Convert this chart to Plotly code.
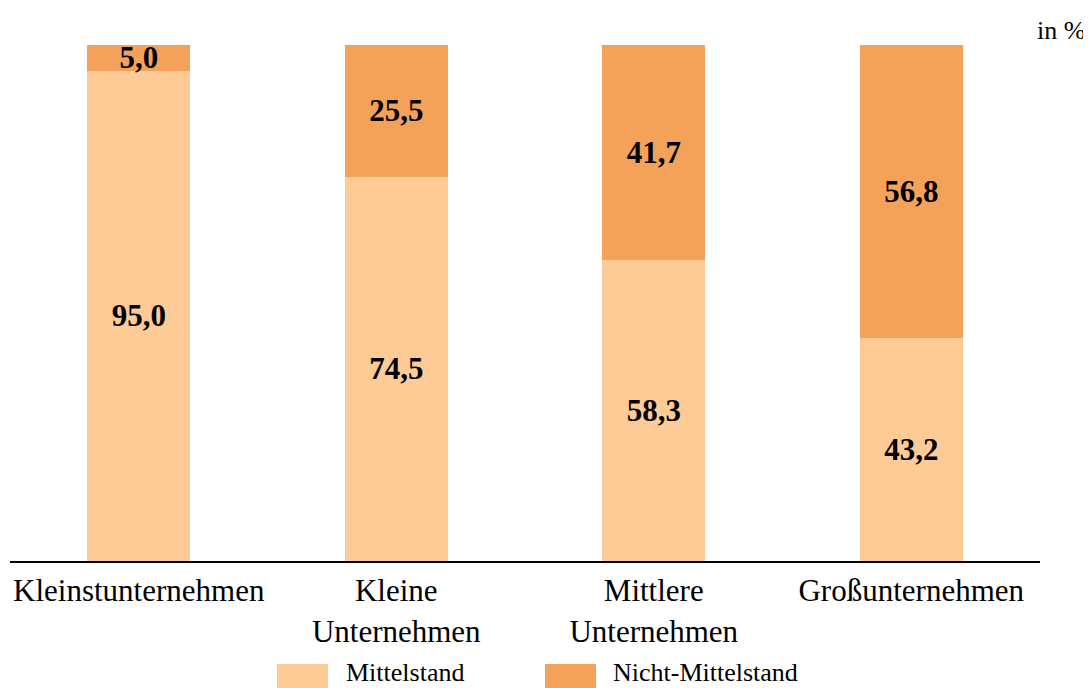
import plotly.graph_objects as go

categories = ["Kleinstunternehmen", "Kleine<br>Unternehmen", "Mittlere<br>Unternehmen", "Großunternehmen"]
mittelstand = [95.0, 74.5, 58.3, 43.2]
nicht_mittelstand = [5.0, 25.5, 41.7, 56.8]
series_names = ["Mittelstand", "Nicht-Mittelstand"]

def fmt(v):
    return f"{v:.1f}".replace(".", ",")

FONT = "Liberation Serif, Times New Roman, serif"
light = "#FECA96"
dark = "#F4A25A"

# page places the figure 8px from the top-left corner (default body margin)
OFF = 8
W, H = 1091 - OFF, 688 - OFF
# plot area in reference (window) pixels: x 10..1040, y 45..561
L, R, T, B = 10 - OFF, W - (1040 - OFF), 45 - OFF, H - (561 - OFF)
PW, PH = W - L - R, H - T - B

def px_x(p):  # window pixel -> paper fraction
    return (p - OFF - L) / PW

def px_y(p):
    return (H - B - (p - OFF)) / PH

fig = go.Figure()
for vals, name, col in [(mittelstand, series_names[0], light), (nicht_mittelstand, series_names[1], dark)]:
    fig.add_trace(go.Bar(
        x=categories, y=vals, name=name,
        marker=dict(color=col, line=dict(width=0)),
        text=[fmt(v) for v in vals], textposition="inside",
        insidetextanchor="middle", constraintext="none",
        textfont=dict(family=FONT, size=31, color="black", weight="bold"),
        showlegend=False,
    ))

# custom legend (large swatches as in the reference)
shapes = []
annotations = []
legend_items = [(series_names[0], light, 277, 328, 346), (series_names[1], dark, 545, 596, 613)]
for name, col, x0, x1, tx in legend_items:
    shapes.append(dict(type="rect", xref="paper", yref="paper",
                       x0=px_x(x0), x1=px_x(x1), y0=px_y(688), y1=px_y(664),
                       fillcolor=col, line=dict(width=0), layer="above"))
    annotations.append(dict(text=name, xref="paper", yref="paper", x=px_x(tx - 2), xanchor="left",
                            y=px_y(672), yanchor="middle", showarrow=False,
                            font=dict(family=FONT, size=26, color="black")))

annotations.append(dict(text="in %", xref="paper", yref="paper", x=px_x(1087), xanchor="right",
                        y=px_y(31), yanchor="middle", showarrow=False,
                        font=dict(family=FONT, size=26, color="black")))

fig.update_layout(
    barmode="stack",
    bargap=0.6,
    width=W, height=H,
    margin=dict(l=L, r=R, t=T, b=B, autoexpand=False),
    paper_bgcolor="white", plot_bgcolor="white",
    font=dict(family=FONT, color="black"),
    showlegend=False,
    xaxis=dict(showline=True, linecolor="black", linewidth=2, ticks="",
               tickfont=dict(family=FONT, size=31, color="black"), showgrid=False,
               ticklabelstandoff=1),
    yaxis=dict(range=[0, 100], visible=False, showgrid=False),
    shapes=shapes,
    annotations=annotations,
)

fig.write_html("out.html")
